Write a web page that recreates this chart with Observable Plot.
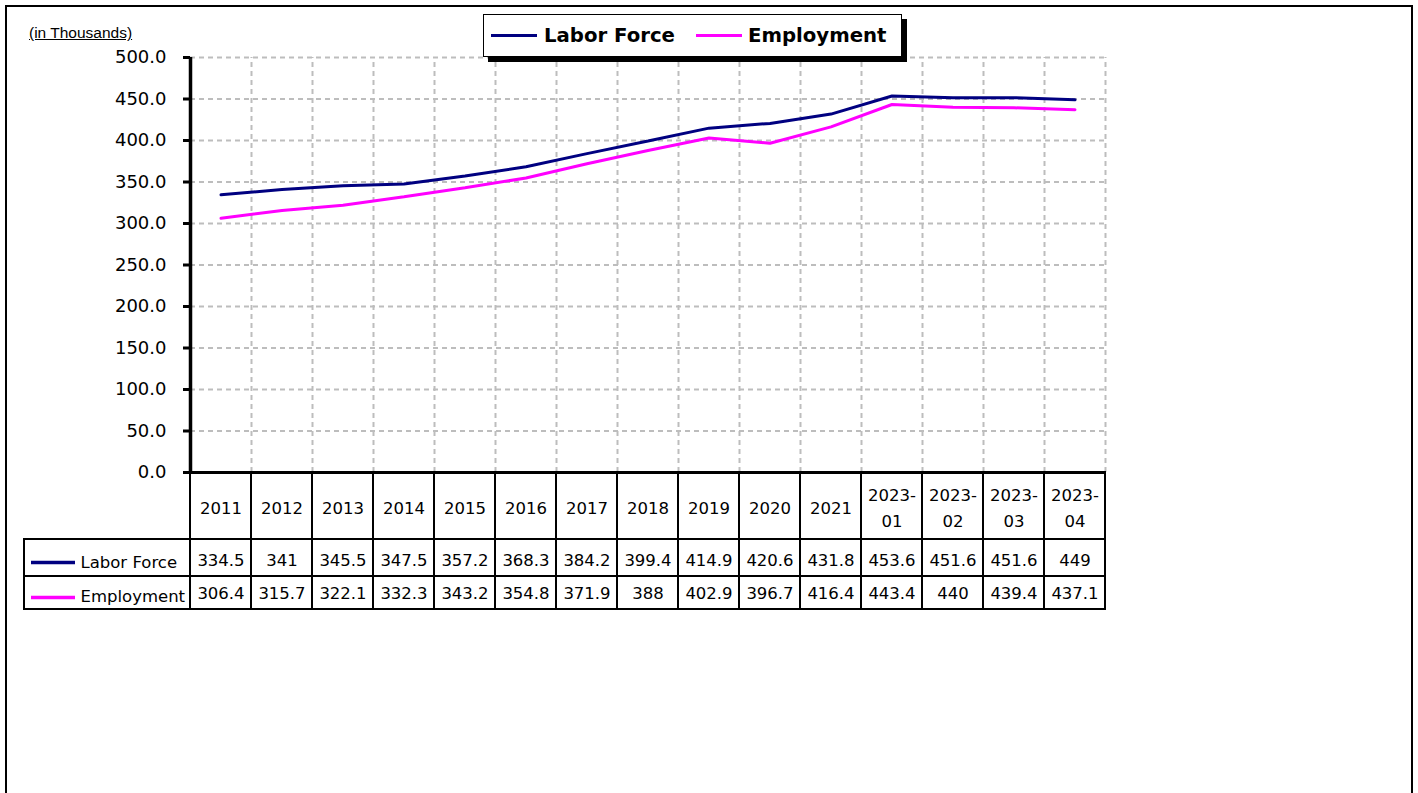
<!DOCTYPE html>
<html>
<head>
<meta charset="utf-8">
<script src="https://cdn.jsdelivr.net/npm/d3@7"></script>
<script src="https://cdn.jsdelivr.net/npm/@observablehq/plot@0.6"></script>
<style>
  html, body { margin: 0; padding: 0; background: #fff; }
  #wrap { position: relative; width: 1418px; height: 793px; overflow: hidden; background: #fff; }
  #border { position: absolute; left: 5px; top: 5px; width: 1408px; height: 820px; border: 2px solid #000; box-sizing: border-box; }
  #unit { position: absolute; left: 29px; top: 24px; font-family: "Liberation Sans", sans-serif; font-size: 15.5px; text-decoration: underline; color: #000; }
  #legend { position: absolute; left: 483px; top: 14px; width: 419px; height: 43px; box-sizing: border-box; border: 1px solid #000; background: #fff; box-shadow: 5px 5px 0 #000; }
  #legend .sw { position: absolute; top: 19px; width: 46px; height: 3px; }
  #legend .lb { position: absolute; top: 9px; font-family: "DejaVu Sans", sans-serif; font-weight: bold; font-size: 19.7px; line-height: 24px; color: #000; white-space: nowrap; }
  #chart { position: absolute; left: 0; top: 0; }
</style>
</head>
<body>
<div id="wrap">
  <div id="border"></div>
  <div id="unit">(in Thousands)</div>
  <div id="chart"></div>
  <div id="legend"></div>
</div>
<script>
// ---- data ----
const categories = ["2011", "2012", "2013", "2014", "2015", "2016", "2017", "2018", "2019", "2020", "2021", "2023-01", "2023-02", "2023-03", "2023-04"];
const laborForce = [334.5, 341, 345.5, 347.5, 357.2, 368.3, 384.2, 399.4, 414.9, 420.6, 431.8, 453.6, 451.6, 451.6, 449];
const employment = [306.4, 315.7, 322.1, 332.3, 343.2, 354.8, 371.9, 388, 402.9, 396.7, 416.4, 443.4, 440, 439.4, 437.1];
const seriesNames = ["Labor Force", "Employment"];
const seriesColors = ["#000080", "#FF00FF"];
const yTicks = [0, 50, 100, 150, 200, 250, 300, 350, 400, 450, 500];

// ---- derived table for the library ----
const n = categories.length;
const rows = categories.map((cat, i) => ({ i, cat, lf: laborForce[i], emp: employment[i] }));
const seriesValues = [laborForce, employment];

// ---- legend (HTML, above the chart) ----
const legend = document.getElementById("legend");
const legendPos = [[7, 60], [212, 264]];
seriesNames.forEach((name, k) => {
  const sw = document.createElement("div");
  sw.className = "sw";
  sw.style.left = legendPos[k][0] + "px";
  sw.style.background = seriesColors[k];
  legend.appendChild(sw);
  const lb = document.createElement("div");
  lb.className = "lb";
  lb.style.left = legendPos[k][1] + "px";
  lb.textContent = name;
  legend.appendChild(lb);
});

// ---- table layout (pixel offsets below the x axis) ----
const headerH = 67, row1H = 37, row2H = 33;
const rowTop = [headerH, headerH + row1H];
const rowHeights = [row1H, row2H];
const rowTextDy = [88, 121];
const keyTextDy = [90, 124];
const keyLineDy = [90, 125];

const gridStyle = { stroke: "#bdbdbd", strokeWidth: 2, strokeDasharray: "5,4" };
const cellFont = 16.5;

const marks = [
  // gridlines
  Plot.ruleY(yTicks.filter(v => v > 0), { x1: 0, x2: n, ...gridStyle }),
  Plot.ruleX(d3.range(1, n + 1), { y1: 0, y2: 500, ...gridStyle }),
  // y axis
  Plot.axisY({ ticks: yTicks, tickFormat: d => d.toFixed(1), tickSize: 7, tickPadding: 17, fontSize: 18, strokeWidth: 3, label: null }),
  Plot.ruleX([0], { y1: 0, y2: 500, stroke: "#000", strokeWidth: 3.5 }),
  // series lines
  ...seriesValues.map((vals, k) =>
    Plot.line(rows, { x: d => d.i + 0.5, y: d => vals[d.i], stroke: seriesColors[k], strokeWidth: 3, strokeLinejoin: "miter" })
  ),
  // x axis line
  Plot.ruleY([0], { x1: 0, x2: n, stroke: "#000", strokeWidth: 3 }),
  // table: header cells with category labels
  Plot.rect(rows, { x1: d => d.i, x2: d => d.i + 1, y1: 0, y2: 0, insetBottom: -headerH, fill: "none", stroke: "#000", strokeWidth: 2 }),
  Plot.text(rows, { x: d => d.i + 0.5, y: 0, dy: headerH / 2, text: d => d.cat.replace("-", "-\n"), fontSize: cellFont, lineHeight: 1.58, fill: "#000" }),
];

// table: value rows + key column
seriesValues.forEach((vals, k) => {
  marks.push(
    Plot.rect(rows, { x1: d => d.i, x2: d => d.i + 1, y1: 0, y2: 0, dy: rowTop[k], insetBottom: -rowHeights[k], fill: "none", stroke: "#000", strokeWidth: 2 }),
    Plot.text(rows, { x: d => d.i + 0.5, y: 0, dy: rowTextDy[k], text: d => String(vals[d.i]), fontSize: cellFont, fill: "#000" }),
    Plot.rect([seriesNames[k]], { x1: 0, x2: 0, insetLeft: -166, y1: 0, y2: 0, dy: rowTop[k], insetBottom: -rowHeights[k], fill: "none", stroke: "#000", strokeWidth: 2 }),
    Plot.ruleY([0], { x1: 0, x2: 0, insetLeft: -159, insetRight: 115, dy: keyLineDy[k], stroke: seriesColors[k], strokeWidth: 3.5 }),
    Plot.text([seriesNames[k]], { x: 0, y: 0, dx: -110, dy: keyTextDy[k], text: d => d, textAnchor: "start", fontSize: cellFont, fill: "#000" })
  );
});

const chart = Plot.plot({
  width: 1418,
  height: 793,
  marginLeft: 190,
  marginRight: 313,
  marginTop: 57,
  marginBottom: 321,
  x: { domain: [0, n], axis: null },
  y: { domain: [0, 500], axis: null },
  style: { fontFamily: "DejaVu Sans, sans-serif", background: "transparent", overflow: "visible", color: "#000" },
  marks
});
document.getElementById("chart").appendChild(chart);
</script>
</body>
</html>
